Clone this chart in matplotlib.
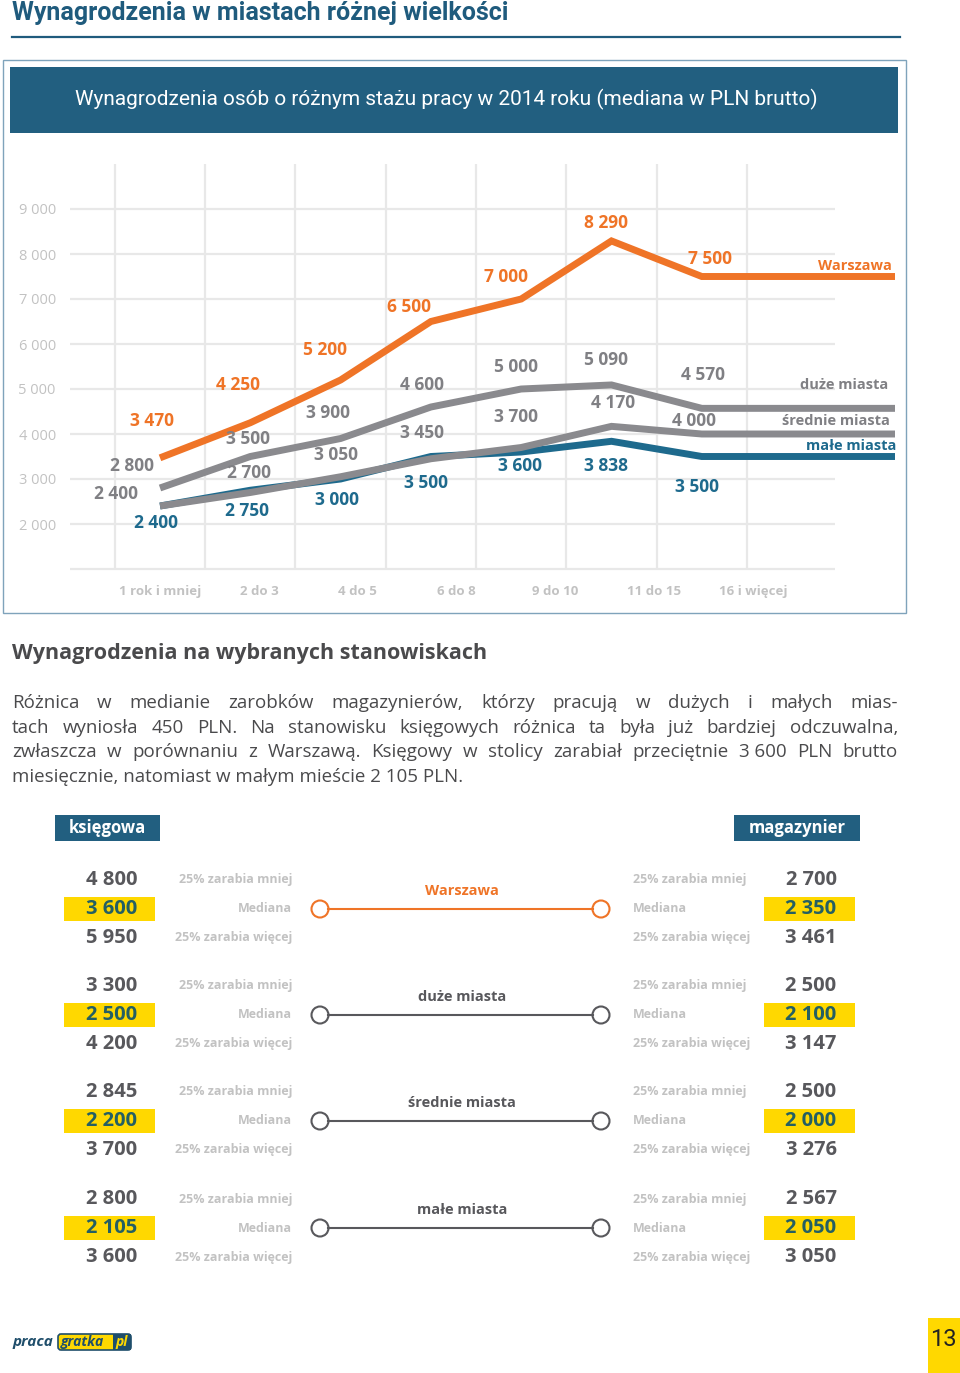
import numpy as np
import matplotlib.pyplot as plt
from matplotlib.patches import Rectangle, Circle, FancyBboxPatch

# --- chart data ---
staz = ['1 rok i mniej', '2 do 3', '4 do 5', '6 do 8', '9 do 10', '11 do 15', '16 i więcej']
warszawa = [3470, 4250, 5200, 6500, 7000, 8290, 7500]
duze = [2800, 3500, 3900, 4600, 5000, 5090, 4570]
srednie = [2400, 2700, 3050, 3450, 3700, 4170, 4000]
male = [2400, 2750, 3000, 3500, 3600, 3838, 3500]
y_ticks = [2000, 3000, 4000, 5000, 6000, 7000, 8000, 9000]

# --- table data ---
miasta = ['Warszawa', 'duże miasta', 'średnie miasta', 'małe miasta']
ksiegowa_q1 = [4800, 3300, 2845, 2800]
ksiegowa_med = [3600, 2500, 2200, 2105]
ksiegowa_q3 = [5950, 4200, 3700, 3600]
magazynier_q1 = [2700, 2500, 2500, 2567]
magazynier_med = [2350, 2100, 2000, 2050]
magazynier_q3 = [3461, 3147, 3276, 3050]

paragraph = [
    'Różnica w medianie zarobków magazynierów, którzy pracują w dużych i małych mias-',
    'tach wyniosła 450 PLN. Na stanowisku księgowych różnica ta była już bardziej odczuwalna,',
    'zwłaszcza w porównaniu z Warszawą. Księgowy w stolicy zarabiał przeciętnie 3\u00a0600 PLN brutto',
    'miesięcznie, natomiast w małym mieście 2\u00a0105 PLN.',
]

ORANGE = '#EF7427'
GRAY = '#8A8A8E'
GRAY_TXT = '#808084'
BLUE = '#1E6A8D'
NAVY = '#1F5B7D'
BAND = '#225F80'
YELLOW = '#FFD800'
LIGHT = '#C2C2C2'
DARK = '#58585C'
NARROW = ['Liberation Sans Narrow', 'Roboto', 'DejaVu Sans']

plt.rcParams['font.family'] = ['Open Sans', 'DejaVu Sans']


def fmt(v):
    return f'{v:,}'.replace(',', ' ')


fig = plt.figure(figsize=(9.6, 13.73), dpi=100)
bg = fig.add_axes([0, 0, 1, 1])
bg.set_xlim(0, 960)
bg.set_ylim(1373, 0)
bg.axis('off')

# header
bg.text(12, 13, 'Wynagrodzenia w miastach różnej wielkości', fontsize=18, fontweight='bold',
        color=NAVY, va='center', ha='left', family=NARROW)
bg.plot([12, 900], [37, 37], color=NAVY, lw=1.6)
bg.add_patch(Rectangle((3, 60), 903, 553, fill=False, edgecolor='#7FA3BB', lw=1))
bg.add_patch(Rectangle((10, 67), 888, 66, facecolor=BAND, edgecolor='none'))
bg.text(446, 99, 'Wynagrodzenia osób o różnym stażu pracy w 2014 roku (mediana w PLN brutto)',
        fontsize=15, color='white', ha='center', va='center', family=NARROW)

# --- line chart ---
ax = fig.add_axes([60 / 960, 1 - 575 / 1373, 840 / 960, 425 / 1373])
ax.patch.set_alpha(0)
ax.set_xlim(-100 / 90.3, 740 / 90.3)
ax.set_ylim(2000 + (524 - 575) / 0.045, 2000 + (524 - 150) / 0.045)
for s in ax.spines.values():
    s.set_visible(False)

x = np.arange(len(staz))
ax.hlines([1000] + y_ticks, -1.0, 7.47, color='#E8E8E8', lw=1.6, zorder=0)
ax.vlines(np.arange(-0.5, 7), 1000, 10000, color='#E8E8E8', lw=1.6, zorder=0)

ax.set_yticks(y_ticks)
ax.set_yticklabels([fmt(v) for v in y_ticks], fontsize=10.5, color=LIGHT)
ax.set_xticks(x * 1.095)
ax.set_xticklabels(staz, fontsize=9.5, color=LIGHT, fontweight='bold')
ax.tick_params(length=0, pad=3)
ax.tick_params(axis='x', pad=7)

x_end = 735 / 90.3
series = [
    (male, BLUE, BLUE, 'małe miasta',
     [(-4, 17), (-3, 21), (-4, 21), (-5, 26), (-1, 14), (-6, 25), (-5, 31)], (1, -11)),
    (srednie, GRAY, GRAY_TXT, 'średnie miasta',
     [(-44, -12), (-1, -20), (-5, -22), (-9, -26), (-5, -30), (2, -23), (-8, -13)], (-5, -13)),
    (duze, GRAY, GRAY_TXT, 'duże miasta',
     [(-28, -22), (-2, -17), (-13, -25), (-9, -22), (-5, -22), (-6, -25), (1, -33)], (-7, -23)),
    (warszawa, ORANGE, ORANGE, 'Warszawa',
     [(-8, -37), (-12, -38), (-16, -30), (-22, -14), (-15, -22), (-5, -18), (8, -18)], (-3, -11)),
]
for vals, lc, tc, name, offs, name_off in series:
    xs = np.append(x, x_end)
    ys = np.append(vals, vals[-1])
    ax.plot(xs, ys, color=lc, lw=5, solid_joinstyle='miter', solid_capstyle='butt', zorder=2)
    for xi, v, (dx, dy) in zip(x, vals, offs):
        ax.annotate(fmt(v), (xi, v), xytext=(dx, -dy), textcoords='offset pixels',
                    ha='center', va='center', fontsize=12.5, fontweight='bold', color=tc, zorder=3)
    ax.annotate(name, (x_end, vals[-1]), xytext=(name_off[0], -name_off[1]), textcoords='offset pixels',
                ha='right', va='center', fontsize=10.5, fontweight='bold', color=tc, zorder=3)

# --- text section ---
bg.text(12, 653, 'Wynagrodzenia na wybranych stanowiskach', fontsize=15.5, fontweight='bold',
        color='#4A4A4C', ha='left', va='center')

renderer = fig.canvas.get_renderer()
for i, line in enumerate(paragraph):
    y = 703 + i * 24.7
    kw = dict(fontsize=13.5, color='#4A4A4C', va='center', ha='left')
    if i == len(paragraph) - 1:
        bg.text(12, y, line, **kw)
        continue
    words = line.split(' ')
    texts = [bg.text(0, y, w, **kw) for w in words]
    widths = [t.get_window_extent(renderer).width for t in texts]
    gap = (898 - 12 - sum(widths)) / (len(words) - 1)
    xpos = 12
    for t, w in zip(texts, widths):
        t.set_x(xpos)
        xpos += w + gap

# --- job boxes ---
bg.add_patch(Rectangle((55, 815), 105, 26, facecolor=BAND, edgecolor='none'))
bg.text(107, 828, 'księgowa', fontsize=12, fontweight='bold', color='white', ha='center', va='center')
bg.add_patch(Rectangle((734, 815), 126, 26, facecolor=BAND, edgecolor='none'))
bg.text(797, 828, 'magazynier', fontsize=12, fontweight='bold', color='white', ha='center', va='center')

tops = [880, 986, 1092, 1199]
for g, city in enumerate(miasta):
    y0 = tops[g]
    ym = y0 + 29
    y2 = y0 + 58
    col = ORANGE if g == 0 else DARK
    # left: ksiegowa
    bg.add_patch(Rectangle((64, ym - 12), 91, 24, facecolor=YELLOW, edgecolor='none'))
    bg.text(112, y0, fmt(ksiegowa_q1[g]), fontsize=14.5, fontweight='bold', color=DARK, ha='center', va='center')
    bg.text(112, ym, fmt(ksiegowa_med[g]), fontsize=14.5, fontweight='bold', color='#245F63', ha='center', va='center')
    bg.text(112, y2, fmt(ksiegowa_q3[g]), fontsize=14.5, fontweight='bold', color=DARK, ha='center', va='center')
    bg.text(292, y0, '25% zarabia mniej', fontsize=9, fontweight='bold', color=LIGHT, ha='right', va='center')
    bg.text(292, ym, 'Mediana', fontsize=9, fontweight='bold', color=LIGHT, ha='right', va='center')
    bg.text(292, y2, '25% zarabia więcej', fontsize=9, fontweight='bold', color=LIGHT, ha='right', va='center')
    # connector
    bg.plot([328, 593], [ym, ym], color=col, lw=1.5)
    bg.add_patch(Circle((320, ym), 8.5, facecolor='white', edgecolor=col, lw=1.5))
    bg.add_patch(Circle((601, ym), 8.5, facecolor='white', edgecolor=col, lw=1.5))
    bg.text(462, ym - 18, city, fontsize=10.5, fontweight='bold', color=col, ha='center', va='center')
    # right: magazynier
    bg.add_patch(Rectangle((764, ym - 12), 91, 24, facecolor=YELLOW, edgecolor='none'))
    bg.text(633, y0, '25% zarabia mniej', fontsize=9, fontweight='bold', color=LIGHT, ha='left', va='center')
    bg.text(633, ym, 'Mediana', fontsize=9, fontweight='bold', color=LIGHT, ha='left', va='center')
    bg.text(633, y2, '25% zarabia więcej', fontsize=9, fontweight='bold', color=LIGHT, ha='left', va='center')
    bg.text(811, y0, fmt(magazynier_q1[g]), fontsize=14.5, fontweight='bold', color=DARK, ha='center', va='center')
    bg.text(811, ym, fmt(magazynier_med[g]), fontsize=14.5, fontweight='bold', color='#245F63', ha='center', va='center')
    bg.text(811, y2, fmt(magazynier_q3[g]), fontsize=14.5, fontweight='bold', color=DARK, ha='center', va='center')

# --- footer ---
bg.text(12, 1342, 'praca', fontsize=11, fontweight='bold', style='italic', color='#1F4E6B', ha='left', va='center')
bg.add_patch(FancyBboxPatch((58, 1334), 73, 16, boxstyle='round,pad=0,rounding_size=3',
                            facecolor=YELLOW, edgecolor='#1F4E6B', lw=1.2))
bg.text(61, 1342, 'gratka', fontsize=10, fontweight='bold', style='italic', color='#1F4E6B', ha='left', va='center')
bg.add_patch(Rectangle((113, 1334), 18, 16, facecolor='#1F4E6B', edgecolor='none'))
bg.text(122, 1342, 'pl', fontsize=10, fontweight='bold', style='italic', color=YELLOW, ha='center', va='center')
bg.add_patch(Rectangle((928, 1318), 32, 55, facecolor=YELLOW, edgecolor='none'))
bg.text(943, 1339, '13', fontsize=17, color='#222222', ha='center', va='center', family=NARROW)

fig.savefig('out.png', dpi=100)
